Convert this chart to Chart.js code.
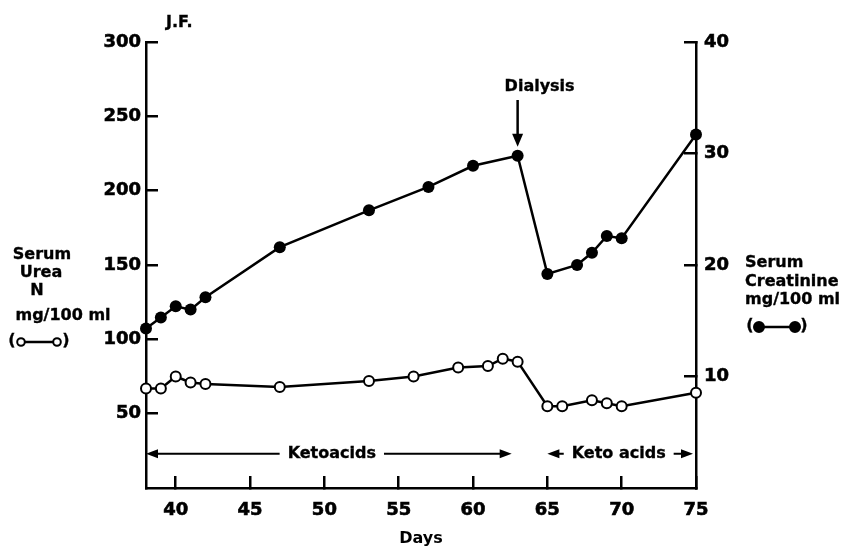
<!DOCTYPE html>
<html>
<head>
<meta charset="utf-8">
<script src="https://cdn.jsdelivr.net/npm/chart.js@4.4.1/dist/chart.umd.min.js"></script>
<style>
html, body { margin: 0; padding: 0; background: #fff; }
#wrap { width: 846px; height: 548px; position: relative; }
</style>
</head>
<body>
<div id="wrap"><canvas id="ureaChart"></canvas></div>
<script>
// --- data ---
const ureaDays = [38, 39, 40, 41, 42, 47, 53, 56, 59, 61, 62, 63, 65, 66, 68, 69, 70, 75];
const ureaValues = [67, 67, 75, 71, 70, 68, 72, 75, 81, 82, 87, 85, 55, 55, 59, 57, 55, 64];
const creatDays = [38, 39, 40, 41, 42, 47, 53, 57, 60, 63, 65, 67, 68, 69, 70, 75];
const creatValues = [14.3, 15.3, 16.3, 16.0, 17.1, 21.6, 24.9, 27.0, 28.9, 29.8, 19.2, 20.0, 21.1, 22.6, 22.4, 31.7];
const dayTicks = [40, 45, 50, 55, 60, 65, 70, 75];
const ureaTicks = [50, 100, 150, 200, 250, 300];
const creatTicks = [10, 20, 30, 40];

const FONT = '"DejaVu Sans", sans-serif';

// bold text with a thin outline so it looks as heavy as the print
function heavyText(ctx, text, x, y) {
    ctx.fillText(text, x, y);
    ctx.lineWidth = 0.35;
    ctx.strokeText(text, x, y);
}

function arrowHead(ctx, x, y, dir, len, half) {
    ctx.beginPath();
    ctx.moveTo(x, y);
    if (dir === 'left') { ctx.lineTo(x + len, y - half); ctx.lineTo(x + len, y + half); }
    if (dir === 'right') { ctx.lineTo(x - len, y - half); ctx.lineTo(x - len, y + half); }
    if (dir === 'down') { ctx.lineTo(x - half, y - len); ctx.lineTo(x + half, y - len); }
    ctx.closePath();
    ctx.fill();
}

function legendGlyph(ctx, x1, x2, y, filled) {
    ctx.font = 'bold 16px ' + FONT;
    ctx.textAlign = 'center';
    heavyText(ctx, '(', x1 - 9, y - 1);
    heavyText(ctx, ')', x2 + 9, y - 1);
    ctx.lineWidth = 2.5;
    ctx.beginPath(); ctx.moveTo(x1, y); ctx.lineTo(x2, y); ctx.stroke();
    [x1, x2].forEach(px => {
        ctx.beginPath();
        ctx.arc(px, y, filled ? 5 : 3.8, 0, Math.PI * 2);
        ctx.fillStyle = filled ? '#000' : '#fff';
        ctx.fill();
        ctx.lineWidth = 2;
        ctx.stroke();
        ctx.fillStyle = '#000';
    });
}

// text labels, arrows and the little legend keys
const annotations = {
    id: 'annotations',
    afterDraw(chart) {
        const { ctx } = chart;
        const x = chart.scales.x, y = chart.scales.y, y1 = chart.scales.y1;
        ctx.save();
        ctx.fillStyle = '#000';
        ctx.strokeStyle = '#000';
        ctx.textBaseline = 'middle';
        ctx.font = 'bold 16px ' + FONT;

        ctx.textAlign = 'left';
        heavyText(ctx, 'J.F.', 166, 23);

        // left axis label
        ctx.textAlign = 'center';
        heavyText(ctx, 'Serum', 42, 255);
        heavyText(ctx, 'Urea', 41, 273);
        heavyText(ctx, 'N', 37, 291);
        heavyText(ctx, 'mg/100 ml', 63, 316);
        legendGlyph(ctx, 21, 57, 342, false);

        // right axis label
        ctx.font = 'bold 16px ' + FONT;
        ctx.textAlign = 'left';
        heavyText(ctx, 'Serum', 745, 263);
        heavyText(ctx, 'Creatinine', 745, 282);
        heavyText(ctx, 'mg/100 ml', 745, 300);
        legendGlyph(ctx, 759, 795, 327, true);

        // dialysis marker
        const dx = x.getPixelForValue(63);
        const dTop = y1.getPixelForValue(creatValues[creatDays.indexOf(63)]) - 9;
        ctx.font = 'bold 16px ' + FONT;
        ctx.textAlign = 'center';
        heavyText(ctx, 'Dialysis', dx + 22, 87);
        ctx.lineWidth = 2.5;
        ctx.beginPath(); ctx.moveTo(dx, 100); ctx.lineTo(dx, dTop - 8); ctx.stroke();
        arrowHead(ctx, dx, dTop, 'down', 13, 5.5);

        // ketoacid periods
        const ky = y.getPixelForValue(23);
        const periods = [
            { from: 38, to: 62.6, label: 'Ketoacids', at: 50.5 },
            { from: 65, to: 74.8, label: 'Keto acids', at: 69.8 }
        ];
        periods.forEach(p => {
            const a = x.getPixelForValue(p.from), b = x.getPixelForValue(p.to);
            const c = x.getPixelForValue(p.at);
            ctx.font = 'bold 16px ' + FONT;
            const w = ctx.measureText(p.label).width / 2 + 8;
            heavyText(ctx, p.label, c, ky);
            ctx.lineWidth = 2;
            ctx.beginPath();
            ctx.moveTo(a + 6, ky); ctx.lineTo(c - w, ky);
            ctx.moveTo(c + w, ky); ctx.lineTo(b - 6, ky);
            ctx.stroke();
            arrowHead(ctx, a, ky, 'left', 12, 4.5);
            arrowHead(ctx, b, ky, 'right', 12, 4.5);
        });
        ctx.restore();
    }
};

const tickFont = { family: FONT, size: 18, weight: 'bold' };
const axisStyle = {
    border: { display: true, color: '#000', width: 2.5 },
    grid: { display: true, drawOnChartArea: false, drawTicks: true, tickLength: -12, color: '#000', lineWidth: 2.5 }
};
const tickStyle = { color: '#000', font: tickFont, textStrokeColor: '#000', textStrokeWidth: 0.6 };

new Chart(document.getElementById('ureaChart').getContext('2d'), {
    type: 'line',
    data: {
        datasets: [{
            label: 'Serum Urea N',
            data: ureaDays.map((d, i) => ({ x: d, y: ureaValues[i] })),
            yAxisID: 'y',
            clip: false,
            borderColor: '#000',
            borderWidth: 2.5,
            pointRadius: 5,
            pointBackgroundColor: '#fff',
            pointBorderColor: '#000',
            pointBorderWidth: 2,
            tension: 0
        }, {
            label: 'Serum Creatinine',
            data: creatDays.map((d, i) => ({ x: d, y: creatValues[i] })),
            yAxisID: 'y1',
            clip: false,
            borderColor: '#000',
            borderWidth: 2.5,
            pointRadius: 6,
            pointBackgroundColor: '#000',
            pointBorderColor: '#000',
            pointBorderWidth: 0,
            tension: 0
        }]
    },
    options: {
        responsive: true,
        maintainAspectRatio: false,
        animation: false,
        layout: { padding: { top: 42, right: 0, left: 0, bottom: 0 } },
        plugins: { legend: { display: false }, tooltip: { enabled: false } },
        scales: {
            x: {
                type: 'linear', min: 38, max: 75,
                ...axisStyle,
                ticks: { ...tickStyle, padding: 24 },
                title: { display: true, text: 'Days', color: '#000', font: { family: FONT, size: 16, weight: 'bold' }, padding: { top: 6, bottom: 0 } },
                afterBuildTicks: s => { s.ticks = dayTicks.map(v => ({ value: v })); },
                afterFit: s => { s.height = 60; }
            },
            y: {
                type: 'linear', position: 'left', min: 0, max: 300,
                ...axisStyle,
                ticks: { ...tickStyle, padding: 17 },
                afterBuildTicks: s => { s.ticks = ureaTicks.map(v => ({ value: v })); },
                afterFit: s => { s.width = 146; }
            },
            y1: {
                type: 'linear', position: 'right', min: 0, max: 40,
                ...axisStyle,
                ticks: { ...tickStyle, padding: 20 },
                afterBuildTicks: s => { s.ticks = creatTicks.map(v => ({ value: v })); },
                afterFit: s => { s.width = 150; }
            }
        }
    },
    plugins: [annotations]
});
</script>
</body>
</html>
